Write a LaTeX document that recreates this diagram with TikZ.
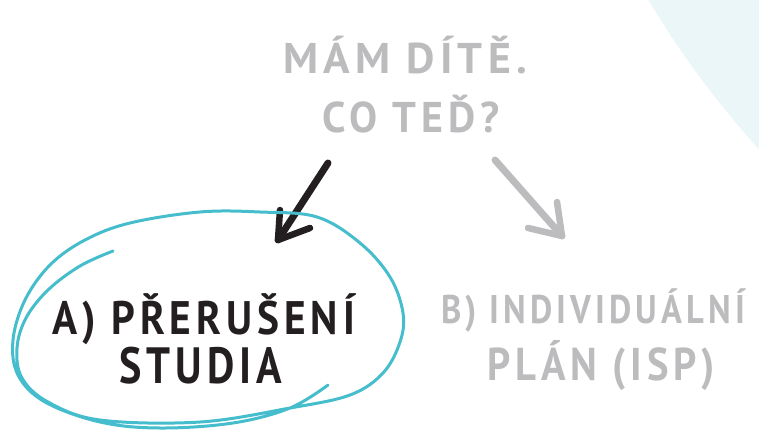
\documentclass[tikz,border=0pt]{standalone}
\usepackage{fontspec}
\usepackage{graphicx}
\newfontfamily\hand[LetterSpace=12]{PT Sans}
\definecolor{greyc}{HTML}{BCBBBD}
\definecolor{blkc}{HTML}{231F20}
\definecolor{tealc}{HTML}{45BDCD}
\definecolor{lightc}{HTML}{EBF6F9}
\newcommand{\fitw}[3]{\resizebox{#1}{\height}{\fontsize{#2}{#2}\selectfont\hand\bfseries #3}}
\begin{document}
\begin{tikzpicture}[x=1pt,y=-1pt,
  txt/.style={inner sep=0pt, anchor=base},
  shaft/.style={line width=7pt, line cap=round},
  head/.style={line width=6.5pt, line cap=round, line join=round},
  loop/.style={draw=tealc, line width=3pt, line cap=round}]
\useasboundingbox (0,0) rectangle (759,430);
\begin{scope}
  \clip (0,0) rectangle (759,430);
  \fill[lightc] (1463,-487) circle (949pt);
\end{scope}
% title
\node[txt, text=greyc] (t1) at (405,74) {\fitw{244pt}{43pt}{MÁM DÍTĚ.}};
\node[txt, text=greyc] (t2) at (411,133) {\fitw{178pt}{43pt}{CO TEĎ?}};
% option A
\node[txt, text=blkc] (a1) at (204,334) {\fitw{302pt}{47pt}{A) PŘERUŠENÍ}};
\node[txt, text=blkc] (a2) at (201,383) {\fitw{163pt}{51pt}{STUDIA}};
% option B
\node[txt, text=greyc] (b1) at (593,323) {\fitw{304pt}{40pt}{B) INDIVIDUÁLNÍ}};
\node[txt, text=greyc] (b2) at (601,380) {\fitw{228pt}{46pt}{PLÁN (ISP)}};
% black arrow
\coordinate (bs) at (328,163);
\coordinate (bt) at (278,240);
\coordinate (bh1) at (280,210);
\coordinate (bh2) at (310,228);
\draw[blkc, shaft] (bs) -- (bt);
\draw[blkc, head] (bh1) -- (bt) -- (bh2);
% grey arrow
\coordinate (gs) at (495,160);
\coordinate (gt) at (562,236);
\coordinate (gh1) at (557,202);
\coordinate (gh2) at (528,228);
\draw[greyc, shaft] (gs) -- (gt);
\draw[greyc, head] (gh1) -- (gt) -- (gh2);
% hand drawn loop
\draw[loop] plot[smooth, tension=0.6] coordinates {
 (113,251) (80,266) (48,290) (26,318) (17,348) (22,378) (48,402) (100,420)
 (200,422) (290,408) (350,395) (383,373) (400,342) (403,313) (390,277)
 (360,243) (317,217) (260,212) (200,212) (130,223) (85,240) (50,265)
 (25,300) (13,340) (18,375) (45,402) (100,422) (160,428) (233,423)
 (290,408) (328,385)};
\end{tikzpicture}
\end{document}
